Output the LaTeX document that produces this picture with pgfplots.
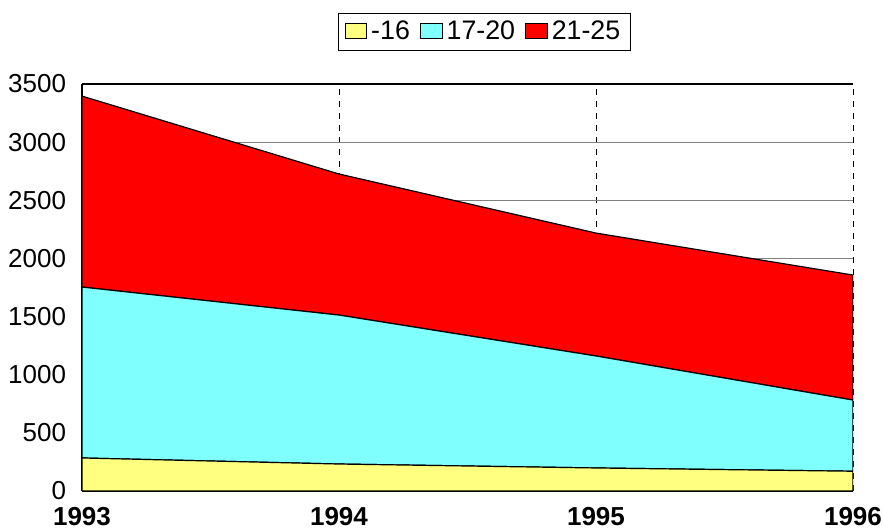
\documentclass[border=0pt]{standalone}
\usepackage{fontspec}
\setmainfont{Liberation Sans}
\usepackage{pgfplots}
\pgfplotsset{compat=1.18}
\definecolor{cyellow}{HTML}{FFFF80}
\definecolor{ccyan}{HTML}{80FFFF}
\definecolor{cred}{HTML}{FF0000}
\begin{document}
\fontsize{13}{15}\selectfont
\begin{tikzpicture}
\begin{axis}[
  at={(0,0)}, anchor=south west,
  scale only axis, width=385.5pt, height=203.5pt,
  xmin=1993, xmax=1996, ymin=0, ymax=3500,
  xtick={1993,1994,1995,1996},
  xticklabels={\textbf{1993},\textbf{1994},\textbf{1995},\textbf{1996}},
  ytick={0,500,...,3500},
  /pgf/number format/assume math mode=true,
  /pgf/number format/1000 sep={},
  major tick length=0pt,
  axis x line*=bottom, axis y line*=left,
  axis line style={black, line width=0.8pt, -},
  ymajorgrids, xmajorgrids,
  y grid style={gray, line width=0.6pt},
  x grid style={black, dashed, line width=0.5pt},
  yticklabel style={inner sep=0pt, xshift=-7.8pt},
  xticklabel style={inner sep=0pt, yshift=-8pt},
  ticklabel style={font=\fontsize{13}{15}\selectfont},
  stack plots=y,
  legend style={at={(axis description cs:0.522,1.1744)}, anchor=north, legend columns=3,
    draw=black, line width=0.6pt, font=\fontsize{13.4}{15}\selectfont,
    inner xsep=3pt, inner ysep=1.5pt, /tikz/every even column/.append style={column sep=3pt}},
  legend image code/.code={\draw[#1, draw=black, line width=0.5pt] (0cm,-0.12cm) rectangle (0.38cm,0.14cm);},
]
\addplot[fill=cyellow, draw=black, line width=0.6pt] coordinates {(1993,284) (1994,232) (1995,198) (1996,170)} \closedcycle;
\addlegendentry{-16}
\addplot[fill=ccyan, draw=black, line width=0.6pt] coordinates {(1993,1470) (1994,1281) (1995,963) (1996,612)} \closedcycle;
\addlegendentry{17-20}
\addplot[fill=cred, draw=black, line width=0.6pt] coordinates {(1993,1642) (1994,1213) (1995,1057) (1996,1075)} \closedcycle;
\addlegendentry{21-25}
\draw[black, line width=0.8pt] (rel axis cs:0,1) -- (rel axis cs:1,1);
\end{axis}
\pgfresetboundingbox
\useasboundingbox (-41pt,-19pt) rectangle (400.5pt,245.5pt);
\end{tikzpicture}
\end{document}
